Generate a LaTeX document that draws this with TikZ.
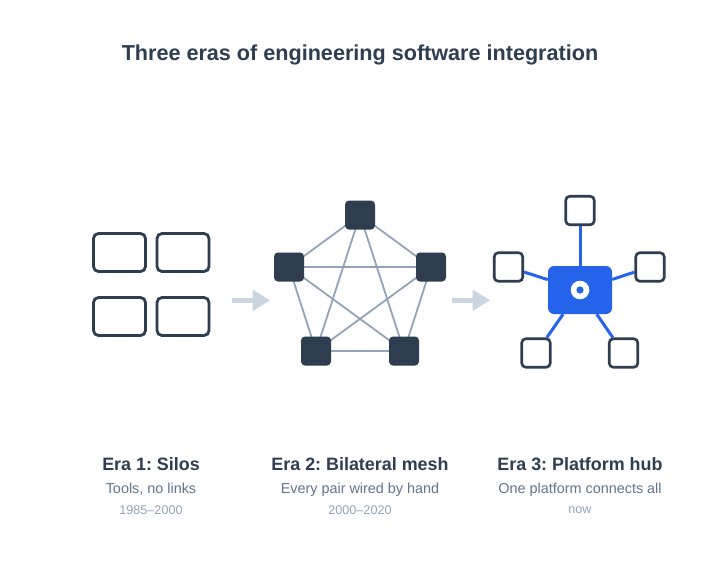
\documentclass[tikz,border=0pt]{standalone}
\usepackage{fontspec}
\setmainfont{Liberation Sans}
\frenchspacing
\definecolor{ink}{HTML}{2F3D50}
\definecolor{sub}{HTML}{64748B}
\definecolor{faint}{HTML}{94A3B8}
\definecolor{meshline}{HTML}{94A3B8}
\definecolor{arrowc}{HTML}{CBD5E1}
\definecolor{hubblue}{HTML}{2563EB}
\tikzset{
  silo/.style={draw=ink, line width=2.8pt, rounded corners=5pt, minimum width=52pt, minimum height=38pt, inner sep=0pt},
  meshnode/.style={fill=ink, rounded corners=4pt, minimum width=30pt, minimum height=29pt, inner sep=0pt},
  sat/.style={draw=ink, fill=white, line width=2.6pt, rounded corners=4pt, minimum size=28.5pt, inner sep=0pt},
  hub/.style={fill=hubblue, rounded corners=6pt, minimum width=64pt, minimum height=48pt, inner sep=0pt},
  meshedge/.style={draw=meshline, line width=1.8pt},
  spoke/.style={draw=hubblue, line width=3pt},
  eratitle/.style={font=\fontsize{17.9}{21}\selectfont\bfseries, text=ink},
  erasub/.style={font=\fontsize{14.4}{17}\selectfont, text=sub},
  eradate/.style={font=\fontsize{12.6}{15}\selectfont, text=faint},
}
\begin{document}
\begin{tikzpicture}[x=1pt,y=-1pt]
\useasboundingbox[fill=white] (0,0) rectangle (720,576);
% title
\node[font=\fontsize{21.6}{26}\selectfont\bfseries, text=ink] (title) at (360,54.5) {Three eras of engineering software integration};
% Era 1
\node[silo] (s1) at (119.5,252.5) {};
\node[silo] (s2) at (183,252.5) {};
\node[silo] (s3) at (119.5,316.5) {};
\node[silo] (s4) at (183,316.5) {};
% arrows
\fill[arrowc] (232,298) rectangle (253,302.6);
\fill[arrowc] (252.5,289.5) -- (270,300.3) -- (252.5,311) -- cycle;
\fill[arrowc] (452,298) rectangle (473,302.6);
\fill[arrowc] (472.5,289.5) -- (490,300.3) -- (472.5,311) -- cycle;
% Era 2 mesh
\coordinate (ct) at (360,215);
\coordinate (cl) at (289,267);
\coordinate (cr) at (431,267);
\coordinate (cbl) at (316,351);
\coordinate (cbr) at (404,351);
\foreach \a/\b in {ct/cl,ct/cr,ct/cbl,ct/cbr,cl/cr,cl/cbl,cl/cbr,cr/cbl,cr/cbr,cbl/cbr}
  \draw[meshedge] (\a) -- (\b);
\node[meshnode] (mt) at (ct) {};
\node[meshnode] (ml) at (cl) {};
\node[meshnode] (mr) at (cr) {};
\node[meshnode] (mbl) at (cbl) {};
\node[meshnode] (mbr) at (cbr) {};
% Era 3 hub
\node[hub] (hub) at (580,290) {};
\node[sat] (pt) at (580,210.5) {};
\node[sat] (pl) at (508.5,267) {};
\node[sat] (pr) at (650,267) {};
\node[sat] (pbl) at (536,353) {};
\node[sat] (pbr) at (623.5,353) {};
\foreach \s in {pt,pl,pr,pbl,pbr}
  \draw[spoke] (hub) -- (\s);
\fill[white] (hub.center) circle (9.3pt);
\fill[hubblue] (hub.center) circle (3.6pt);
% labels
\node[eratitle] (e1) at (151,464.5) {Era 1: Silos};
\node[erasub] (e1s) at (151,489.5) {Tools, no links};
\node[eradate] (e1d) at (151,510) {1985–2000};
\node[eratitle] (e2) at (360,464.5) {Era 2: Bilateral mesh};
\node[erasub] (e2s) at (360,489.5) {Every pair wired by hand};
\node[eradate] (e2d) at (360,510) {2000–2020};
\node[eratitle] (e3) at (580,464.5) {Era 3: Platform hub};
\node[erasub] (e3s) at (580,489.5) {One platform connects all};
\node[eradate] (e3d) at (580,510) {now};
\end{tikzpicture}
\end{document}
